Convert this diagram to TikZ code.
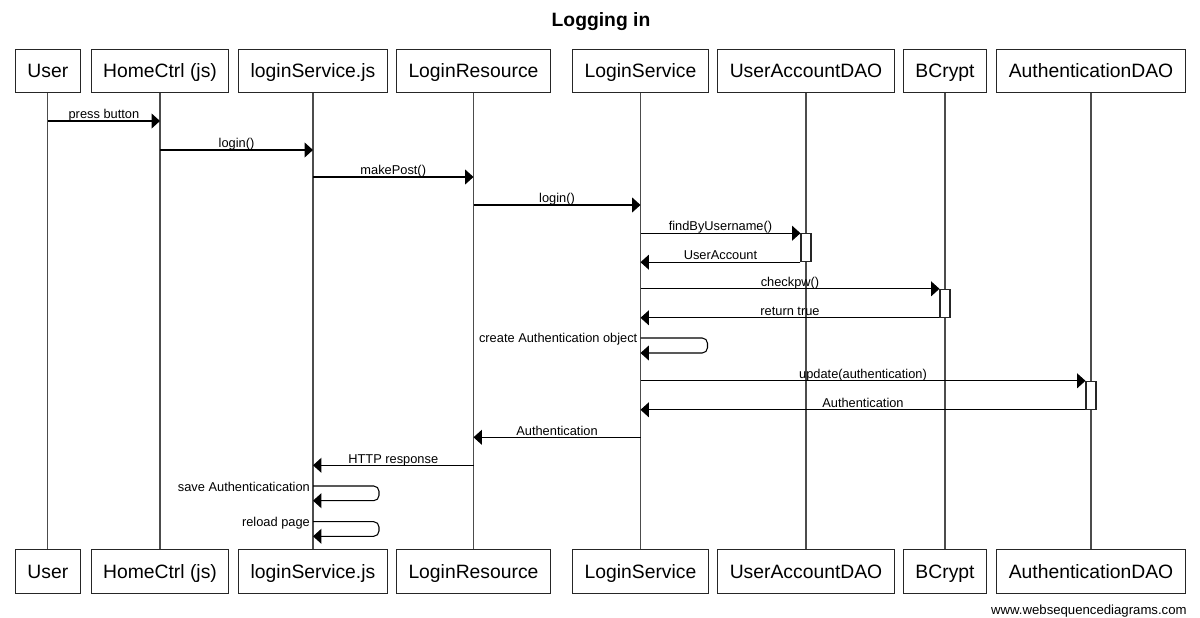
\documentclass[tikz,border=0pt]{standalone}
\usepackage{fontspec}
\setmainfont{Liberation Sans}
\usepackage{tikz}
\usetikzlibrary{arrows.meta}
\tikzset{>={Triangle[length=4.8pt,width=8.5pt]}}
\tikzset{
  actor/.style={draw=black!85, fill=white, line width=0.6pt, inner xsep=6.8pt,
    inner ysep=0pt, text height=9.5pt, text depth=1.6pt,
    minimum height=24.9pt, font=\fontsize{11}{13}\selectfont},
  life/.style={draw=black!70, line width=0.6pt},
  msg/.style={->, draw=black, line width=0.6pt},
  lbl/.style={midway, anchor=base, yshift=1.3pt, inner sep=0pt,
    font=\fontsize{7.3}{8}\selectfont},
  slbl/.style={anchor=east, xshift=-1.5pt, yshift=-0.6pt, inner sep=0pt,
    font=\fontsize{7.3}{8}\selectfont},
  act/.style={draw=black!85, fill=white, line width=0.6pt, inner sep=0pt,
    minimum width=5.7pt, minimum height=15.9pt}
}

\begin{document}
\begin{tikzpicture}[x=0.02cm, y=-0.02cm]
\useasboundingbox (0,0) rectangle (1200,618);
\node[font=\bfseries\fontsize{11}{13}\selectfont, anchor=base] (title) at (601,27) {Logging in};
% heads
\node[actor] (usr) at (47.8,71) {User};
\node[actor] (home) at (160,71) {HomeCtrl (js)};
\node[actor] (lsjs) at (313,71) {loginService.js};
\node[actor] (lres) at (473.5,71) {LoginResource};
\node[actor] (lsrv) at (640.5,71) {LoginService};
\node[actor] (uad) at (806,71) {UserAccountDAO};
\node[actor] (bc) at (945,71) {BCrypt};
\node[actor] (adao) at (1091,71) {AuthenticationDAO};
% feet
\node[actor] (usrB) at (47.8,571.3) {User};
\node[actor] (homeB) at (160,571.3) {HomeCtrl (js)};
\node[actor] (lsjsB) at (313,571.3) {loginService.js};
\node[actor] (lresB) at (473.5,571.3) {LoginResource};
\node[actor] (lsrvB) at (640.5,571.3) {LoginService};
\node[actor] (uadB) at (806,571.3) {UserAccountDAO};
\node[actor] (bcB) at (945,571.3) {BCrypt};
\node[actor] (adaoB) at (1091,571.3) {AuthenticationDAO};
% lifelines
\foreach \n in {usr,home,lsjs,lres,lsrv,uad,bc,adao}
  \draw[life] (\n.south) -- (\n B.north);
% activations
\node[act] (a1) at (uad |- 0,247.7) {};
\node[act] (a2) at (bc |- 0,303.3) {};
\node[act] (a3) at (adao |- 0,395.3) {};
% messages
\draw[msg] (usr |- 0,121) -- node[lbl] {press button} (home |- 0,121);
\draw[msg] (home |- 0,150) -- node[lbl] {login()} (lsjs |- 0,150);
\draw[msg] (lsjs |- 0,177) -- node[lbl] {makePost()} (lres |- 0,177);
\draw[msg] (lres |- 0,205) -- node[lbl] {login()} (lsrv |- 0,205);
\draw[msg] (lsrv |- a1.north west) -- node[lbl] {findByUsername()} (a1.north west);
\draw[msg] (a1.south west) -- node[lbl] {UserAccount} (lsrv |- a1.south west);
\draw[msg] (lsrv |- a2.north west) -- node[lbl] {checkpw()} (a2.north west);
\draw[msg] (a2.south west) -- node[lbl] {return true} (lsrv |- a2.south west);
\draw[msg, rounded corners=3pt] (lsrv |- 0,338) node[slbl] {create Authentication object}
  -- ++(67,0) -- ++(0,15) -- (lsrv |- 0,353);
\draw[msg] (lsrv |- a3.north west) -- node[lbl] {update(authentication)} (a3.north west);
\draw[msg] (a3.south west) -- node[lbl] {Authentication} (lsrv |- a3.south west);
\draw[msg] (lsrv |- 0,437.3) -- node[lbl] {Authentication} (lres |- 0,437.3);
\draw[msg] (lres |- 0,465.3) -- node[lbl] {HTTP response} (lsjs |- 0,465.3);
\draw[msg, rounded corners=3pt] (lsjs |- 0,486) node[slbl] {save Authenticatication}
  -- ++(66,0) -- ++(0,14.7) -- (lsjs |- 0,500.7);
\draw[msg, rounded corners=3pt] (lsjs |- 0,521.7) node[slbl] {reload page}
  -- ++(66,0) -- ++(0,14.6) -- (lsjs |- 0,536.3);
\node[anchor=base east, inner sep=0pt, font=\fontsize{7.5}{9}\selectfont] (wsd) at (1187,614) {www.websequencediagrams.com};
\end{tikzpicture}
\end{document}
